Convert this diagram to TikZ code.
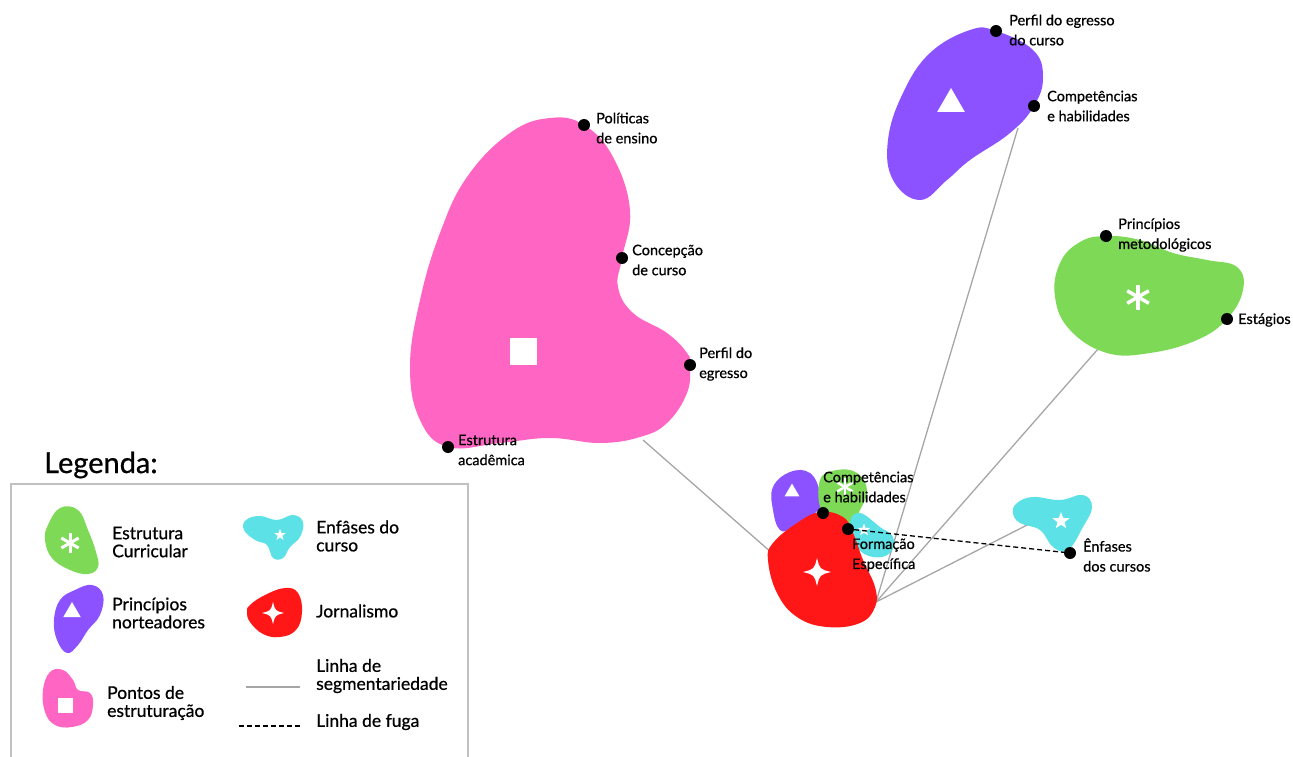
\documentclass[tikz,border=0pt]{standalone}
\usepackage{fontspec}
\setmainfont{Lato}[UprightFeatures={FakeBold=0.7}]
\usetikzlibrary{shapes.geometric}

\definecolor{rosa}{HTML}{FF66C4}
\definecolor{roxo}{HTML}{8C52FF}
\definecolor{verde}{HTML}{7ED957}
\definecolor{ciano}{HTML}{5CE1E6}
\definecolor{vermelho}{HTML}{FF1616}
\definecolor{cinza}{HTML}{A6A6A6}

\tikzset{
  ponto/.style={circle, fill=black, inner sep=0pt, minimum size=12pt},
  rotulo/.style={anchor=west, align=left, inner sep=0pt, font=\fontsize{14.5}{20}\selectfont},
  legtxt/.style={anchor=west, align=left, inner sep=0pt, font=\fontsize{17.5}{18}\selectfont},
  segm/.style={cinza, line width=1.3pt},
  fuga/.style={black, line width=1.3pt, dash pattern=on 5pt off 3pt},
  quadrado/.style={fill=white, inner sep=0pt, minimum size=#1},
  triang/.style={regular polygon, regular polygon sides=3, fill=white, inner sep=0pt, minimum size=#1},
  estrela/.style={star, star points=5, star point ratio=2.4, fill=white, inner sep=0pt, minimum size=#1},
}

% asterisco branco: centro, raio, espessura
\newcommand{\asterisco}[3]{\foreach \a in {90,30,150} \draw[white, line width=#3] (#1) ++(\a:#2) -- ++(\a+180:2*#2);}
% estrela de quatro pontas: centro, raio
\newcommand{\brilho}[2]{\fill[white, shift={(#1)}, scale=#2] (0,-1) .. controls (0.2,-0.2) .. (1,0) .. controls (0.2,0.2) .. (0,1) .. controls (-0.2,0.2) .. (-1,0) .. controls (-0.2,-0.2) .. (0,-1) -- cycle;}

\begin{document}
\begin{tikzpicture}[x=1pt, y=-1pt]
\useasboundingbox (0,0) rectangle (1293,757);

% linhas de segmentariedade (por baixo das manchas)
\coordinate (pe1) at (643,440);
\coordinate (jo1) at (772,553);
\coordinate (jo2) at (876,602);
\coordinate (pn1) at (1018,128);
\coordinate (ec1) at (1098,349);
\coordinate (en1) at (1033,522);
\draw[segm] (pe1) -- (jo1);
\draw[segm] (pn1) -- (jo2);
\draw[segm] (ec1) -- (jo2);
\draw[segm] (en1) -- (jo2);

% Pontos de estruturacao
\fill[rosa] plot[smooth cycle, tension=0.7] coordinates {(550,118) (584,125) (613,157) (630,210) (622,258) (618,287) (633,313) (667,333) (687,353) (690,365) (687,393) (667,423) (640,437) (600,443) (550,438) (500,443) (448,447) (420,420) (410,367) (420,300) (440,233) (467,177) (510,133)};
\node[quadrado=27pt] (sqpe) at (523,351) {};
\node[ponto] (pol) at (584,125) {};
\node[ponto] (con) at (622,258) {};
\node[ponto] (per) at (690,365) {};
\node[ponto] (est) at (448,447) {};
\node[rotulo] (tpol) at (596,128) {Políticas\\de ensino};
\node[rotulo] (tcon) at (632,260) {Concepção\\de curso};
\node[rotulo] (tper) at (699,364) {Perfil do\\egresso};
\node[rotulo] (test) at (458,450) {Estrutura\\acadêmica};

% Principios norteadores
\fill[roxo] plot[smooth cycle, tension=0.7] coordinates {(970,30) (996,31) (1033,50) (1043,77) (1034,106) (1010,133) (970,160) (947,180) (920,200) (893,180) (888,140) (903,93) (930,53)};
\node[triang=32pt] (trpn) at (951,104) {};
\node[ponto] (peg) at (996,31) {};
\node[ponto] (cph) at (1034,106) {};
\node[rotulo] (tpeg) at (1009,30) {Perfil do egresso\\do curso};
\node[rotulo] (tcph) at (1047,106) {Competências\\e habilidades};

% Estrutura curricular
\fill[verde] plot[smooth cycle, tension=0.7] coordinates {(1106,236) (1140,240) (1173,253) (1207,260) (1237,267) (1243,290) (1227,319) (1197,340) (1150,353) (1107,353) (1070,330) (1055,297) (1060,263) (1080,242)};
\asterisco{1138,297}{12.5}{3.5pt}
\node[ponto] (pme) at (1106,236) {};
\node[ponto] (esg) at (1227,319) {};
\node[rotulo] (tpme) at (1118,235) {Princípios\\metodológicos};
\node[rotulo] (tesg) at (1238,320) {Estágios};

% Enfases do curso
\fill[ciano] plot[smooth cycle, tension=0.7] coordinates {(1033,497) (1060,500) (1083,495) (1092,507) (1083,527) (1068,550) (1053,547) (1040,530) (1020,523) (1013,513) (1017,503)};
\node[estrela=18pt] (stec) at (1061,521) {};

% Jornalismo e manchas sobrepostas
\fill[roxo] plot[smooth cycle, tension=0.7] coordinates {(790,472) (810,473) (820,493) (818,510) (793,527) (780,530) (773,510) (773,487)};
\node[triang=17pt] (trjo) at (792,492) {};
\fill[verde] plot[smooth cycle, tension=0.7] coordinates {(837,470) (857,473) (867,490) (860,510) (850,523) (823,513) (820,480)};
\asterisco{845,487}{9}{2.5pt}
\fill[ciano] plot[smooth cycle, tension=0.7] coordinates {(850,523) (860,513) (880,527) (893,537) (890,553) (873,557) (857,547)};
\node[estrela=13pt] (stjo) at (864,530) {};
\fill[vermelho] plot[smooth cycle, tension=0.7] coordinates {(797,523) (820,512) (843,517) (853,533) (863,560) (875,587) (875,607) (860,623) (827,627) (797,617) (777,593) (768,560) (773,543)};
\brilho{817,572}{14}

% linha de fuga
\node[ponto] (cpj) at (823,513) {};
\node[ponto] (fes) at (848,529) {};
\node[ponto] (enf) at (1070,553) {};
\draw[fuga] (fes) -- (enf);
\node[rotulo] (tcpj) at (823,487) {Competências\\e habilidades};
\node[rotulo] (tfes) at (852,555) {Formação\\Específica};
\node[rotulo] (tenf) at (1083,555) {Ênfases\\dos cursos};

% Legenda
\node[anchor=west, inner sep=0pt, font=\fontsize{29}{29}\selectfont] (leg) at (44,465) {Legenda:};
\draw[cinza!70, line width=1.5pt] (11,760) -- (11,484) -- (468,484) -- (468,760);

\fill[verde] plot[smooth cycle, tension=0.7] coordinates {(48,525) (60,508) (78,510) (88,530) (96,552) (98,567) (88,574) (70,570) (52,558) (45,540)};
\asterisco{70,543}{10}{3pt}
\node[legtxt] (lec) at (112,542) {Estrutura\\Curricular};

\fill[roxo] plot[smooth cycle, tension=0.7] coordinates {(75,590) (92,585) (103,595) (100,615) (88,630) (78,645) (67,653) (57,640) (54,620) (60,600)};
\node[triang=20pt] (trleg) at (72,612) {};
\node[legtxt] (lpn) at (112,613) {Princípios\\norteadores};

\fill[rosa] plot[smooth cycle, tension=0.7] coordinates {(50,672) (63,670) (73,680) (78,690) (90,693) (93,705) (88,720) (72,727) (55,725) (45,712) (43,690)};
\node[quadrado=15pt] (sqleg) at (65,705) {};
\node[legtxt] (lpe) at (107,703) {Pontos de\\estruturação};

\fill[ciano] plot[smooth cycle, tension=0.7] coordinates {(246,520) (260,516) (277,520) (293,515) (303,522) (300,537) (290,547) (283,558) (273,558) (267,545) (255,540) (244,530)};
\node[estrela=12pt] (stleg) at (280,535) {};
\node[legtxt] (len) at (316,536) {Enfâses do\\curso};

\fill[vermelho] plot[smooth cycle, tension=0.7] coordinates {(250,605) (265,595) (285,588) (298,593) (302,612) (296,630) (280,637) (263,634) (250,622) (247,612)};
\brilho{273,613}{11}
\node[legtxt] (ljo) at (316,611) {Jornalismo};

\coordinate (ls1) at (246,687);
\coordinate (ls2) at (300,687);
\draw[segm] (ls1) -- (ls2);
\node[legtxt] (lsg) at (316,676) {Linha de\\segmentariedade};

\coordinate (lf1) at (239,726);
\coordinate (lf2) at (300,726);
\draw[fuga] (lf1) -- (lf2);
\node[legtxt] (lfu) at (316,722) {Linha de fuga};
\end{tikzpicture}
\end{document}
